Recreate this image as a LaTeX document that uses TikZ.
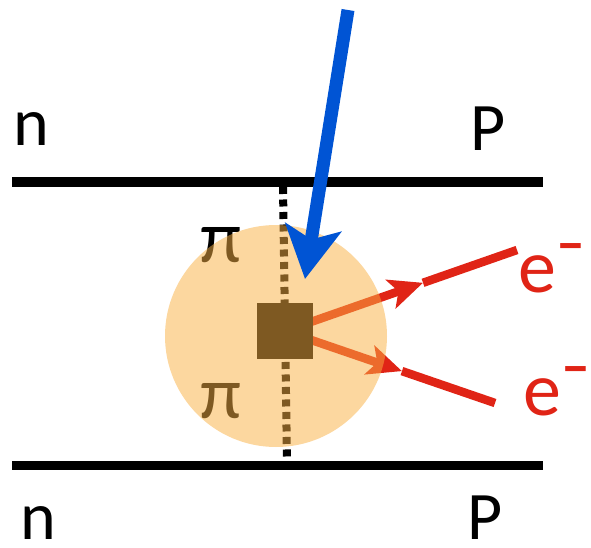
\documentclass[tikz,border=0pt]{standalone}
\usepackage{fontspec}
\setmainfont{Carlito}
\usetikzlibrary{arrows.meta,calc}
\definecolor{blobcol}{RGB}{249,176,67}
\definecolor{elred}{RGB}{224,36,22}
\definecolor{arrblue}{RGB}{0,84,212}
\tikzset{
  nucline/.style={line width=9pt},
  pionline/.style={line width=8pt, dash pattern=on 7pt off 5.5pt},
  lbl/.style={inner sep=0pt, anchor=base, font=\fontsize{68}{68}\selectfont},
  pilbl/.style={inner sep=0pt, anchor=base, font=\fontsize{74}{74}\selectfont},
  elbl/.style={inner sep=0pt, anchor=base west, text=elred, font=\fontsize{76}{76}\selectfont},
  eline/.style={line width=8.5pt, draw=elred},
  earrow/.style={eline, -{Stealth[length=34pt,width=30pt,inset=8pt]}},
  photon/.style={line width=13pt, draw=arrblue, -{Stealth[length=52pt,width=56pt,inset=12pt]}},
  blob/.style={fill=blobcol, fill opacity=0.51},
  vertex/.style={fill=black, minimum size=56pt, inner sep=0pt}
}
\newcommand{\elminus}{\raisebox{30pt}{\fontsize{58}{58}\selectfont\bfseries –}}
\begin{document}
\begin{tikzpicture}[x=1pt,y=-1pt]
\useasboundingbox (0,0) rectangle (591,548);
% coordinates
\coordinate (tl) at (12,182);
\coordinate (tr) at (543,182);
\coordinate (bl) at (12,465);
\coordinate (br) at (543,465);
\coordinate (pt) at (283,187);
\coordinate (pb) at (287,462);
\coordinate (v) at (285,331);
\coordinate (e1) at (517,250);
\coordinate (e2) at (495,403);
\coordinate (t1) at ($(v)!0.595!(e1)$);
\coordinate (t2) at ($(v)!0.557!(e2)$);
\coordinate (g0) at (348,10);
\coordinate (g1) at (305,279);
% nucleon lines
\draw[nucline] (tl) -- (tr);
\draw[nucline] (bl) -- (br);
% labels
\node[lbl] (n1) at (31,146) {n};
\node[lbl] (p1) at (488,151) {P};
\node[lbl] (n2) at (38,539) {n};
\node[lbl] (p2) at (485,539) {P};
% pion line
\draw[pionline] (pt) -- (pb);
\node[pilbl] (pi1) at (221,262) {π};
\node[pilbl] (pi2) at (221,418) {π};
% electron lines
\draw[earrow] (v) -- (t1);
\draw[eline] (t1) -- (e1);
\draw[earrow] (v) -- (t2);
\draw[eline] (t2) -- (e2);
% vertex
\node[vertex] (sq) at (v) {};
% blob
\fill[blob] (276,336) circle[radius=111];
% photon
\draw[photon] (g0) -- (g1);
% electron labels
\node[elbl] (el1) at (518,292) {e\elminus};
\node[elbl] (el2) at (523,415) {e\elminus};
\end{tikzpicture}
\end{document}
